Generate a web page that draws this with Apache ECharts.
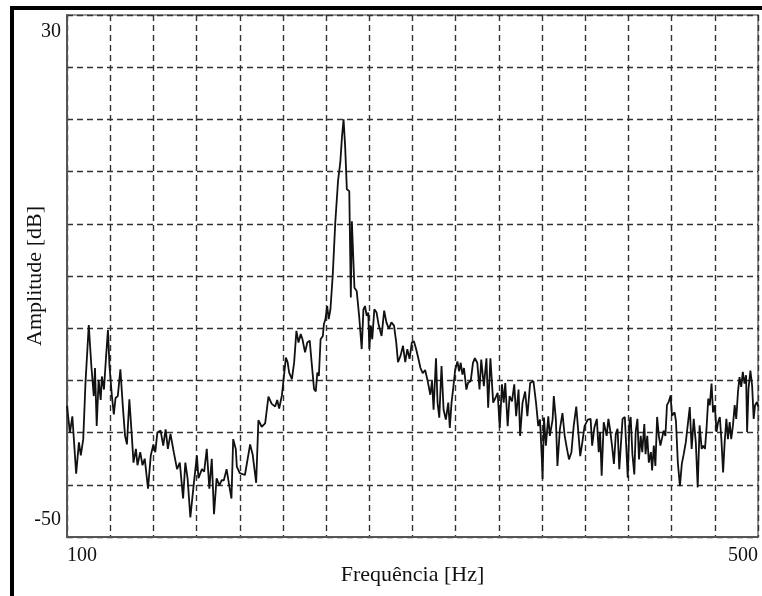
<!DOCTYPE html>
<html>
<head>
<meta charset="utf-8">
<script src="https://cdn.jsdelivr.net/npm/echarts@6/dist/echarts.min.js"></script>
<style>
  html, body { margin: 0; padding: 0; background: #fff; }
  #chart { width: 762px; height: 596px; }
</style>
</head>
<body>
<div id="chart"></div>
<script>
// spectrum: frequency [Hz] / amplitude [dB]
var freq = [
  100, 101.7, 103.1, 104.2, 105.3, 106.9, 108, 109.4, 110.7, 112.6, 114.1, 115.5, 116.2, 117.2, 118.3, 119.5,
  120.2, 121.4, 122.5, 123.7, 124.6, 126, 127.1, 128.1, 129.4, 130.9, 132.3, 133.6, 134.7, 136.1, 137.4, 138.5,
  139.9, 140.8, 142.4, 143.7, 145, 146.9, 148.5, 150, 151.1, 152.3, 154.2, 155.7, 157.1, 158.4, 159.9, 161.8,
  163.7, 165.3, 167.2, 168.5, 169.8, 171.4, 173.3, 175.2, 176.1, 178.1, 179.4, 180.9, 182.4, 183.8, 185.1, 186.6,
  188.2, 189.5, 190.8, 192.4, 193.9, 195.2, 196.2, 197.7, 198.3, 200, 203, 206, 207.5, 209.5, 210.8, 212.7,
  214.7, 216.6, 218.5, 220.5, 221.7, 222.8, 224.4, 225.8, 226.7, 227.7, 228.6, 230.2, 231.5, 232.8, 234, 235.3,
  236.3, 237.8, 239.1, 240.5, 241.6, 243, 244, 244.9, 245.8, 246.8, 248.1, 248.7, 249.6, 250.6, 251.5, 252.5,
  253.8, 255.3, 256.9, 258.2, 259.2, 260.1, 261, 262, 263.4, 264.3, 264.9, 266.4, 267.7, 269.1, 270.6, 271.6,
  272.5, 273.5, 274.4, 275, 275.9, 276.7, 277.9, 279.2, 280.5, 282.1, 283.6, 284.9, 286.3, 287.8, 289.3, 290.6,
  291.6, 293.1, 294.5, 295.8, 297, 298.3, 299.6, 300.8, 301.9, 303.1, 304.6, 305.9, 307.3, 308.8, 310.3, 311.3,
  312.2, 313.6, 314.5, 315.5, 316.8, 318, 319.3, 320.7, 321.6, 322.6, 323.7, 324.7, 326, 327, 327.9, 328.9,
  329.8, 331.2, 332.1, 333.7, 335, 336.1, 337.5, 338.8, 339.8, 341.3, 342.8, 343.8, 345.1, 346.7, 348, 349.3,
  350.5, 351.8, 352.8, 353.7, 355.1, 356.2, 357.6, 358.9, 360, 361.4, 362.3, 363.7, 365.2, 366.5, 368.1, 370,
  371.5, 372.8, 373.8, 374.8, 375.3, 376.1, 377.2, 378.6, 379.5, 381.1, 381.8, 383, 383.9, 385.3, 386.8, 388.1,
  389.5, 390.6, 392, 393.3, 394.8, 395.8, 397.1, 398.3, 399.6, 401.5, 403.1, 404, 405.3, 406.7, 407.8, 408.6,
  409.5, 410.7, 411.6, 412.4, 413.4, 414.3, 415.5, 416.6, 417.7, 418.7, 419.7, 420.6, 421.6, 422.9, 423.9, 424.6,
  425.6, 426.3, 427.3, 428.4, 429.2, 430.2, 431.1, 432.1, 433, 434.2, 434.9, 435.9, 436.8, 438, 438.7, 439.7,
  440.6, 441.6, 442.6, 443.5, 444.5, 445.4, 446.4, 447.3, 448.3, 449.4, 450.2, 451.7, 452.5, 453.6, 454.8, 455.9,
  457, 458.2, 459.3, 460.5, 461.6, 462.8, 464, 465.1, 466.2, 467.4, 468.3, 469.3, 470.2, 471.2, 472.1, 473.1,
  474, 475, 476, 476.9, 477.9, 478.8, 479.8, 480.7, 481.7, 482.6, 483.6, 484.5, 485.5, 486.5, 487.4, 488.4,
  489.3, 490.3, 491.2, 492.2, 493.1, 493.7, 494.5, 495.6, 496.6, 497.5, 498.3, 499.4, 500
];
var amp = [
  -29.9, -34, -31.5, -31.2, -40.3, -35.5, -37.5, -35, -26.4, -17.5, -23.8, -28.4, -24.1, -33, -25.9, -29,
  -25.4, -27.4, -22.8, -18.3, -23.8, -28.4, -31.2, -28.7, -28.4, -24.3, -29.9, -34.5, -35.8, -28.9, -34, -38.6,
  -36.5, -39, -37, -39, -38, -42.6, -37.5, -35.8, -37, -34, -33.7, -36, -33.5, -36.5, -34.2, -37,
  -39.6, -38.6, -44.1, -38.6, -41, -47, -42.1, -37.5, -41, -39.6, -40, -36.5, -42.6, -38, -46.5, -41,
  -42.1, -41.3, -41.3, -39.6, -42.1, -44.1, -35, -36.5, -39.2, -40.2, -40.5, -35.8, -37.4, -41.7, -32.1, -33.1,
  -32.6, -28.5, -29.6, -30, -29, -30.3, -28.3, -24.8, -22.5, -23.2, -24.8, -25.8, -23.2, -18.4, -20.2, -18.9,
  -19.7, -21.7, -20.2, -19.9, -23.2, -27.3, -27.7, -24.8, -25.3, -19.7, -19.2, -17.4, -16.6, -14.6, -16.6, -15.1,
  -10, -1.8, 4.6, 7.4, 11.4, 14, 9.9, 3.3, 3, -13.3, -1.6, -11.8, -12.3, -16.1, -21.2, -15.1,
  -14.6, -16.1, -15.6, -21.2, -17.6, -19.7, -15.1, -15.6, -17.6, -19.2, -15.3, -17.1, -18.1, -17.1, -17.6, -20.2,
  -23.2, -22.2, -20.7, -23.2, -21.2, -22.7, -20.2, -20, -21, -22.3, -24.1, -24.9, -24.4, -26.1, -28.2, -26.1,
  -30.5, -22.6, -29.4, -31.7, -23.8, -30.5, -32, -29.4, -33.3, -29.4, -26.9, -24.4, -23.1, -24.6, -23.3, -25.1,
  -24.1, -27.4, -26.4, -26.1, -23.3, -22.6, -23.3, -27.4, -22.8, -26.9, -22.6, -30.2, -22.6, -29.4, -28.7, -27.9,
  -33.3, -26.6, -29.4, -26.4, -33, -28.4, -29.2, -26.6, -31.5, -27.4, -34.5, -29.4, -27.7, -31.5, -26.4, -26.1,
  -29.4, -33, -32, -37.6, -41.1, -31.7, -36, -31.5, -34.5, -32, -28.4, -32, -39.1, -33.5, -31, -34.5,
  -36.6, -38.1, -37, -33, -30, -29.7, -37.6, -35.5, -33, -32, -31.9, -36, -33.2, -31.9, -37, -33.9,
  -40.6, -32.4, -32.4, -34.5, -31.9, -33.4, -36, -38.8, -34.2, -33.4, -39.6, -39.8, -31.9, -31.6, -31.9, -40.9,
  -32.4, -31.6, -37.3, -40.4, -33.9, -31.9, -38.1, -34.5, -37, -32.7, -37.3, -34.5, -38.6, -37, -39.8, -36,
  -39.1, -31.6, -34.5, -36, -36.3, -33.7, -34.5, -29.8, -29.3, -28.3, -31.4, -30.9, -32.2, -38.6, -42.2, -38.8,
  -37.3, -35.5, -35.2, -30.1, -36.5, -31.9, -35.5, -42.4, -32.9, -36.5, -36, -36.5, -33.4, -28.8, -29.8, -26.5,
  -30.9, -29.8, -33.9, -32.4, -31.6, -35, -40.1, -35.5, -31.9, -35, -32.4, -35, -32.9, -29.8, -31.9, -27.8,
  -25.5, -27, -24.7, -26.5, -25.2, -33.9, -27.3, -24.5, -26.8, -31.9, -29.8, -29.3, -30
];
var xTickLabels = [100, 500];
var yTickLabels = [-50, 30];

var serif = "'Liberation Serif', 'DejaVu Serif', serif";
var points = freq.map(function (f, i) { return [f, amp[i]] });

var chart = echarts.init(document.getElementById('chart'));
chart.setOption({
  animation: false,
  backgroundColor: '#fff',
  grid: {
    left: 67, top: 15, width: 691, height: 522,
    outerBoundsMode: 'none',
    show: true, borderColor: '#777', borderWidth: 1.5
  },
  graphic: [{
    type: 'rect', silent: true, z: 100,
    shape: {x: 12, y: 8, width: 820, height: 700},
    style: {fill: 'none', stroke: '#000', lineWidth: 4}
  }],
  xAxis: {
    type: 'value', min: 100, max: 500, interval: 25,
    name: 'Frequência [Hz]', nameLocation: 'middle', nameGap: 27,
    nameMoveOverlap: false,
    nameTextStyle: {fontFamily: serif, fontSize: 22, color: '#111'},
    axisLine: {show: true, onZero: false, lineStyle: {color: '#555', width: 2}},
    axisTick: {show: false},
    axisLabel: {
      fontFamily: serif, fontSize: 20, color: '#111', margin: 9,
      showMinLabel: true, showMaxLabel: true,
      alignMinLabel: 'left', alignMaxLabel: 'right',
      formatter: function (v) { return xTickLabels.indexOf(v) >= 0 ? String(v) : '' }
    },
    splitLine: {show: true, lineStyle: {color: '#333', width: 1.4, type: [6, 4]}}
  },
  yAxis: {
    type: 'value', min: -50, max: 30, interval: 8,
    name: 'Amplitude [dB]', nameLocation: 'middle', nameGap: 21,
    nameMoveOverlap: false,
    nameTextStyle: {fontFamily: serif, fontSize: 22, color: '#111'},
    axisLine: {show: true, onZero: false, lineStyle: {color: '#555', width: 2}},
    axisTick: {show: false},
    axisLabel: {
      fontFamily: serif, fontSize: 20, color: '#111', margin: 6, lineHeight: 34,
      showMinLabel: true, showMaxLabel: true,
      verticalAlignMinLabel: 'bottom', verticalAlignMaxLabel: 'top',
      formatter: function (v) { return yTickLabels.indexOf(v) >= 0 ? String(v) : '' }
    },
    splitLine: {show: true, lineStyle: {color: '#333', width: 1.4, type: [6, 4]}}
  },
  series: [{
    type: 'line',
    data: points,
    showSymbol: false,
    lineStyle: {color: '#111', width: 1.8},
    z: 3
  }]
});
</script>
</body>
</html>
